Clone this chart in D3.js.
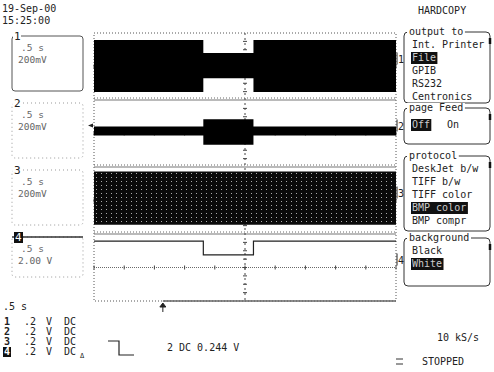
<!DOCTYPE html>
<html>
<head>
<meta charset="utf-8">
<script src="https://cdn.jsdelivr.net/npm/d3@7"></script>
<style>
  body { margin: 0; background: #fff; }
  svg text { font-family: "DejaVu Sans Mono", monospace; font-size: 10px; fill: #222; }
  .dim text { fill: #666; font-size: 9.5px; }
</style>
</head>
<body>
<svg id="scope" width="494" height="372"></svg>
<script>
// header
const dateText = "19-Sep-00"
const timeText = "15:25:00"

// time base: 10 divisions of .5 s
const timePerDiv = 0.5
const timeDivs = 10
// segment edges in seconds (signal switches at ~1.8 s and ~2.65 s)
const segEdges = [0, 1.81, 2.64, 5]
const trigT = 1.14

// channel settings
const channels = ["1", "2", "3", "4"]
const voltsPerDiv = [0.2, 0.2, 0.2, 2.0]
const voltsLabel = ["200mV", "200mV", "200mV", "2.00 V"]

// envelope of the noisy traces per segment (V)
const ch1Hi = [0.63, 0.32, 0.63]
const ch1Lo = [-0.61, -0.28, -0.61]
const ch2Hi = [0.17, 0.34, 0.17]
const ch2Lo = [-0.05, -0.27, -0.05]
const ch3Hi = [0.69, 0.69, 0.69]
const ch3Lo = [-0.58, -0.58, -0.58]
// channel 4 is a clean logic level (V)
const ch4Level = [6.3, 3.0, 6.3]

// bottom readout
const coupling = [".2", ".2", ".2", ".2"]
const triggerText = "2  DC 0.244 V"
const sampleRate = "10 kS/s"
const runState = "STOPPED"

// menu on the right
const menuTitle = "HARDCOPY"
const menus = [
  {title: "output to", items: ["Int. Printer", "File", "GPIB", "RS232", "Centronics"], sel: 1},
  {title: "page Feed", items: ["Off", "On"], sel: 0, inline: true},
  {title: "protocol", items: ["DeskJet b/w", "TIFF b/w", "TIFF color", "BMP color", "BMP compr"], sel: 3},
  {title: "background", items: ["Black", "White"], sel: 1},
]

const svg = d3.select("#scope")
const grid = {left: 94, right: 396, top: 33, bottom: 301}
const stripH = (grid.bottom - grid.top) / 4

const x = d3.scaleLinear().domain([0, timePerDiv * timeDivs]).range([grid.left, grid.right])
const yFor = i => d3.scaleLinear()
  .domain([-4 * voltsPerDiv[i], 4 * voltsPerDiv[i]])
  .range([grid.top + (i + 1) * stripH, grid.top + i * stripH])

const defs = svg.append("defs")
const pat = defs.append("pattern").attr("id", "speckle").attr("patternUnits", "userSpaceOnUse")
  .attr("width", 5).attr("height", 4)
pat.append("rect").attr("width", 5).attr("height", 4).attr("fill", "#0a0a0a")
pat.append("rect").attr("x", 1).attr("y", 1).attr("width", 1).attr("height", 1).attr("fill", "#aaa")

// header text
svg.append("text").attr("x", 2).attr("y", 12).text(dateText)
svg.append("text").attr("x", 2).attr("y", 24).text(timeText)

// ---- grid
const g = svg.append("g")
g.append("rect").attr("x", grid.left).attr("y", grid.top)
  .attr("width", grid.right - grid.left).attr("height", grid.bottom - grid.top)
  .attr("fill", "none").attr("stroke", "#555").attr("stroke-dasharray", "1,2")
// strip separators
d3.range(1, 4).forEach(k => {
  const yy = grid.top + k * stripH
  g.append("line").attr("x1", grid.left).attr("x2", grid.right).attr("y1", yy - 2).attr("y2", yy - 2)
    .attr("stroke", "#666").attr("stroke-dasharray", "1,2")
  g.append("line").attr("x1", grid.left).attr("x2", grid.right).attr("y1", yy).attr("y2", yy)
    .attr("stroke", "#777").attr("stroke-width", 1.2)
})
// center vertical line with ticks
const xc = x(timePerDiv * timeDivs / 2)
g.append("line").attr("x1", xc).attr("x2", xc).attr("y1", grid.top).attr("y2", grid.bottom)
  .attr("stroke", "#444").attr("stroke-dasharray", "2,3")
channels.forEach((c, i) => {
  const y = yFor(i)
  d3.range(-3, 4).forEach(v => {
    g.append("line").attr("x1", xc - 2).attr("x2", xc + 2)
      .attr("y1", y(v * voltsPerDiv[i])).attr("y2", y(v * voltsPerDiv[i]))
      .attr("stroke", "#444")
  })
  // strip centre axis with ticks at each division
  g.append("line").attr("x1", grid.left).attr("x2", grid.right).attr("y1", y(0)).attr("y2", y(0))
    .attr("stroke", "#444").attr("stroke-width", 0.8).attr("stroke-dasharray", "1,1")
  d3.range(0, timeDivs + 1).forEach(d => {
    g.append("line").attr("x1", x(d * timePerDiv)).attr("x2", x(d * timePerDiv))
      .attr("y1", y(0) - 2).attr("y2", y(0) + 2).attr("stroke", "#444")
  })
})
// solid bottom line after the trigger point
g.append("line").attr("x1", x(trigT)).attr("x2", grid.right).attr("y1", grid.bottom).attr("y2", grid.bottom)
  .attr("stroke", "#666").attr("stroke-width", 1.5)
g.append("path").attr("d", `M${x(trigT)},${grid.bottom + 2} l-3,4 h6 z M${x(trigT)},${grid.bottom + 5} v6`)
  .attr("stroke", "#222").attr("fill", "#222")

// ---- traces
const bands = [[ch1Hi, ch1Lo], [ch2Hi, ch2Lo], [ch3Hi, ch3Lo]]
bands.forEach(([hi, lo], i) => {
  const y = yFor(i)
  const pts = []
  hi.forEach((h, s) => { pts.push({t: segEdges[s], hi: h, lo: lo[s]}); pts.push({t: segEdges[s + 1], hi: h, lo: lo[s]}) })
  const area = d3.area().x(d => x(d.t)).y0(d => y(d.lo)).y1(d => y(d.hi))
  svg.append("path").datum(pts).attr("d", area)
    .attr("fill", i === 2 ? "url(#speckle)" : "#000")
})
{
  const y = yFor(3)
  const line = d3.line().curve(d3.curveStepAfter).x(d => x(d.t)).y(d => y(d.v))
  const pts = ch4Level.map((v, s) => ({t: segEdges[s], v}))
  pts.push({t: segEdges[3], v: ch4Level[2]})
  svg.append("path").datum(pts).attr("d", line).attr("fill", "none")
    .attr("stroke", "#222").attr("stroke-width", 1.2)
}

// channel markers on the right edge
channels.forEach((c, i) => {
  const y = yFor(i)
  const yy = y(0) - 8
  svg.append("text").attr("x", grid.right + 2).attr("y", yy + 4).text(c)
  svg.append("line").attr("x1", grid.right + 1).attr("x2", grid.right + 1).attr("y1", yy - 6).attr("y2", yy + 6)
    .attr("stroke", "#222")
})
// ground arrow for channel 2 on the left edge
svg.append("path").attr("d", `M${grid.left - 6},${yFor(1)(0) - 8} l5,-2 v4 z`).attr("fill", "#222")

// ---- channel boxes on the left
channels.forEach((c, i) => {
  const top = grid.top + i * stripH + 3
  const bg = svg.append("g").attr("class", "dim")
  const solid = i === 0
  bg.append("rect").attr("x", 12).attr("y", top).attr("width", 71).attr("height", i === 3 ? 40 : 55)
    .attr("rx", 3).attr("fill", "none")
    .attr("stroke", solid ? "#555" : "#999").attr("stroke-dasharray", solid ? null : "1,3")
  if (i === 3) {
    bg.append("line").attr("x1", 12).attr("x2", 83).attr("y1", top).attr("y2", top).attr("stroke", "#333").attr("stroke-width", 1.5)
    bg.append("rect").attr("x", 14).attr("y", top - 5).attr("width", 9).attr("height", 11).attr("fill", "#111")
    bg.append("text").attr("x", 15).attr("y", top + 4).style("fill", "#fff").style("font-size", "11px").text(c)
  } else {
    bg.append("rect").attr("x", 13).attr("y", top - 5).attr("width", 8).attr("height", 10).attr("fill", "#fff")
    bg.append("text").attr("x", 14).attr("y", top + 4).style("fill", "#222").style("font-size", "11px").text(c)
  }
  bg.append("text").attr("x", 21).attr("y", top + 15).text(".5 s")
  bg.append("text").attr("x", 18).attr("y", top + 27).text(voltsLabel[i])
})

// ---- right menu
svg.append("text").attr("x", 418).attr("y", 14).text(menuTitle)
const menuTops = [32, 108, 156, 238]
const menuBottoms = [103, 144, 231, 286]
menus.forEach((m, k) => {
  const top = menuTops[k], bottom = menuBottoms[k]
  const mg = svg.append("g")
  mg.append("rect").attr("x", 404).attr("y", top).attr("width", 86).attr("height", bottom - top)
    .attr("rx", 4).attr("fill", "none").attr("stroke", "#333")
  mg.append("rect").attr("x", 407).attr("y", top - 5).attr("width", m.title.length * 6.1 + 3).attr("height", 9).attr("fill", "#fff")
  mg.append("text").attr("x", 409).attr("y", top + 3).text(m.title)
  // knob marks
  mg.append("line").attr("x1", 490).attr("x2", 490).attr("y1", top + 6).attr("y2", top + 12).attr("stroke", "#111").attr("stroke-width", 2.5)
  m.items.forEach((it, j) => {
    const ix = m.inline ? 412 + j * 35 : 412
    const iy = m.inline ? top + 20 : top + 16 + j * 13
    if (j === m.sel) {
      mg.append("rect").attr("x", ix - 1).attr("y", iy - 9).attr("width", it.length * 6.1 + 2).attr("height", 12).attr("fill", "#111")
      mg.append("text").attr("x", ix).attr("y", iy).style("fill", "#ccc").text(it)
    } else {
      mg.append("text").attr("x", ix).attr("y", iy).text(it)
    }
  })
})

// ---- bottom readout
svg.append("text").attr("x", 3).attr("y", 310).text(".5  s")
channels.forEach((c, i) => {
  const yy = 325 + i * 10
  if (i === 3) {
    svg.append("rect").attr("x", 3).attr("y", yy - 8).attr("width", 8).attr("height", 10).attr("fill", "#111")
    svg.append("text").attr("x", 4).attr("y", yy).style("fill", "#fff").style("font-weight", "bold").text(c)
  } else {
    svg.append("text").attr("x", 4).attr("y", yy).style("font-weight", "bold").text(c)
  }
  svg.append("text").attr("x", 24).attr("y", yy).text(coupling[i])
  svg.append("text").attr("x", 46).attr("y", yy).text("V")
  svg.append("text").attr("x", 64).attr("y", yy).text("DC")
})
svg.append("text").attr("x", 80).attr("y", 358).style("font-size", "7px").text("Δ")
svg.append("path").attr("d", "M108,341 h11 v14 h15").attr("fill", "none").attr("stroke", "#222").attr("stroke-width", 1.2)
svg.append("text").attr("x", 167).attr("y", 351).text(triggerText)
svg.append("text").attr("x", 437).attr("y", 341).text(sampleRate)
svg.append("text").attr("x", 422).attr("y", 365).text(runState)
svg.append("path").attr("d", "M396,359 h7 M396,364 h7").attr("stroke", "#333")
</script>
</body>
</html>
